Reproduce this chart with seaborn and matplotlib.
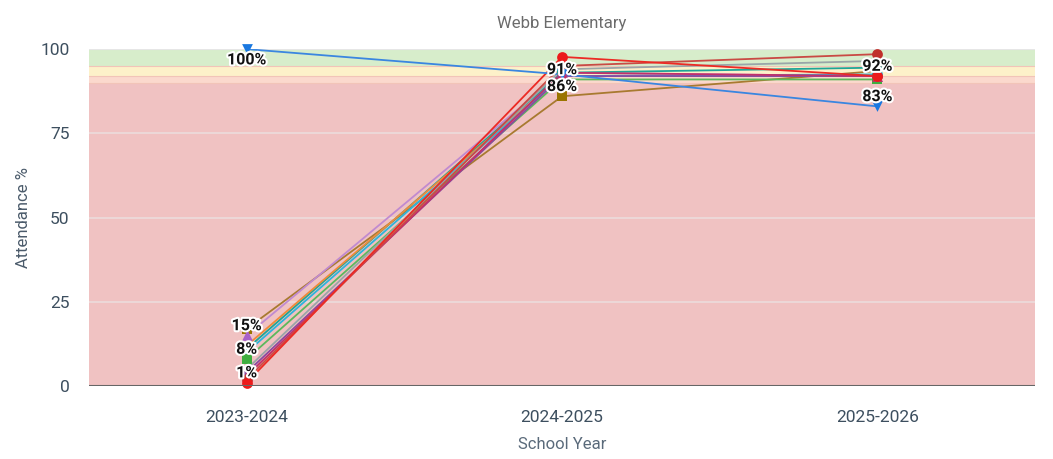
import pandas as pd
import matplotlib.pyplot as plt
import matplotlib.patheffects as pe
import seaborn as sns

# Data
years = ["2023-2024", "2024-2025", "2025-2026"]
series_names = ["Brown", "Purple", "Teal", "Orange", "Cyan", "Green",
                "Gray", "DarkPurple", "Crimson", "DarkRed", "Red", "Blue"]
brown = [17, 86, 93.5]
purple = [15, 93, 92]
teal = [11, 93, 94.5]
orange = [12, 92, 92]
cyan = [10, 92, 92.5]
green = [8, 91, 91]
gray = [5, 94, 96.5]
dark_purple = [4, 92, 92]
crimson = [3, 93, 92]
dark_red = [2, 95, 98.5]
red = [1, 97.7, 92]
blue = [100, 92.5, 83]
values = [brown, purple, teal, orange, cyan, green, gray, dark_purple,
          crimson, dark_red, red, blue]

colors = ["#a87a30", "#c08ad0", "#1fa596", "#ef8a3a", "#2bb5dc", "#5cb85c",
          "#9aa5a8", "#8a4aa0", "#c2306a", "#c94a44", "#ec2a24", "#3a86e0"]
marker_colors = ["#9a7400", "#a860c8", "#1fa596", "#ef8a3a", "#2bb5dc", "#3fae3f",
                 "#8e999c", "#8a4aa0", "#c2306a", "#c0302a", "#ec1a1a", "#1a78e0"]
markers = ["s", "^", "s", "o", "o", "s", "^", "o", "^", "o", "o", "v"]

# which points get a value label: (series, year index, above?)
labels = [("Blue", 0, False), ("Purple", 0, True), ("Green", 0, True), ("Red", 0, True),
          ("Green", 1, True), ("Brown", 1, True),
          ("Orange", 2, True), ("Blue", 2, True)]

# Band limits (attendance thresholds)
bands = [(0, 90, "#f0c2c2"), (90, 92, "#fbd9cd"), (92, 95, "#fdf1c9"), (95, 100, "#d7edcb")]

rows = []
for name, vals in zip(series_names, values):
    for i, v in enumerate(vals):
        rows.append({"series": name, "x": i, "value": v})
df = pd.DataFrame(rows)

sns.set_theme(style="white")
plt.rcParams["font.family"] = ["Roboto", "DejaVu Sans"]

fig = plt.figure(figsize=(10.53, 4.59), dpi=100)
ax = fig.add_axes([0.0845, 0.159, 0.8985, 0.734])

for lo, hi, c in bands:
    ax.axhspan(lo, hi, color=c, zorder=0, lw=0)
for lo, hi, c in bands[1:]:
    ax.axhline(lo, color="#f2c4b8", lw=0.8, zorder=0.5)
for yv in [25, 50, 75]:
    ax.axhline(yv, color="#ecdcdc", lw=1.2, zorder=0.5)
ax.axhline(100, color="#e6e6e6", lw=1.5, zorder=0.5)

palette = dict(zip(series_names, colors))
sns.lineplot(data=df, x="x", y="value", hue="series", palette=palette,
             hue_order=series_names, legend=False, lw=1.3, ax=ax,
             estimator=None, sort=False, zorder=2)

for name, vals, mc, mk in zip(series_names, values, marker_colors, markers):
    ax.scatter(range(len(vals)), vals, color=mc, marker=mk, s=60,
               zorder=3, clip_on=False, linewidths=0)

for name, xi, above in labels:
    v = values[series_names.index(name)][xi]
    off = 2.9 if above else -3.2
    ax.text(xi, v + off, f"{round(v)}%", ha="center", va="center",
            fontsize=11.5, fontweight="bold", color="#111111", zorder=5,
            path_effects=[pe.withStroke(linewidth=3, foreground="white")])

ax.axhline(0, color="#666666", lw=1.5, zorder=4)

ax.set_xlim(-0.5, 2.5)
ax.set_ylim(0, 100)
ax.set_xticks(range(len(years)))
ax.set_xticklabels(years)
ax.set_yticks([0, 25, 50, 75, 100])
ax.tick_params(axis="both", colors="#3d4f5f", labelsize=12.5, length=0)
ax.tick_params(axis="x", pad=17)
ax.tick_params(axis="y", pad=14)
for s in ax.spines.values():
    s.set_visible(False)
ax.set_xlabel("School Year", fontsize=12, color="#5a6a7a", labelpad=9)
ax.set_ylabel("Attendance %", fontsize=12, color="#4a5a6a", labelpad=7)
ax.set_title("Webb Elementary", fontsize=12, color="#6b6b6b", pad=15)

fig.savefig("out.png", dpi=100)
